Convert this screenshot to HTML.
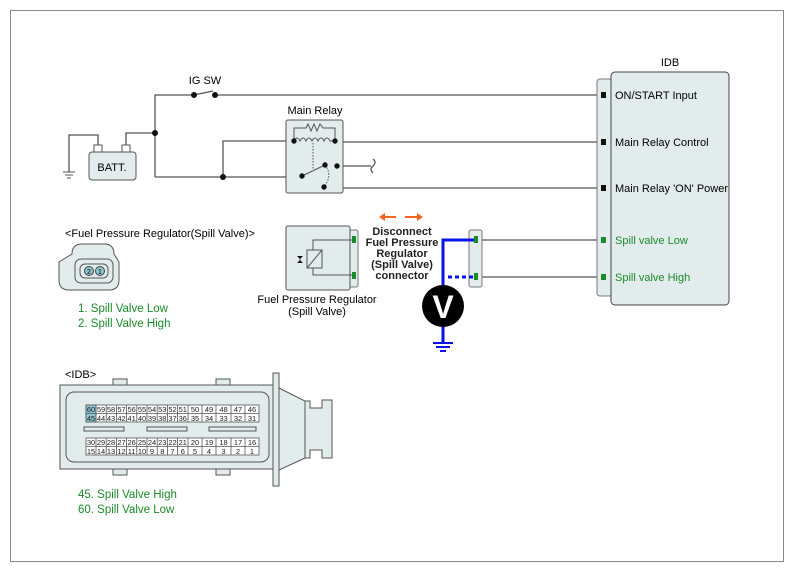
<!DOCTYPE html>
<html><head><meta charset="utf-8"><style>
html,body{margin:0;padding:0;background:#fff}
svg{display:block;font-family:"Liberation Sans",sans-serif}
</style></head><body>
<svg width="794" height="572" viewBox="0 0 794 572" xmlns="http://www.w3.org/2000/svg">
<rect x="10.5" y="10.5" width="773" height="551" fill="#fff" stroke="#888"/>
<g stroke="#555" fill="none" stroke-width="1.3">
<polyline points="155,177 155,95 194,95"/>
<line x1="194" y1="95" x2="213" y2="91"/>
<line x1="215" y1="95" x2="603" y2="95"/>
<polyline points="126,145 126,133 155,133"/>
<polyline points="98,145 98,135 69,135 69,172"/>
<line x1="155" y1="177" x2="302" y2="177"/>
<polyline points="223,177 223,141 294,141"/>
<line x1="335" y1="142" x2="603" y2="142"/>
<line x1="302" y1="177" x2="325" y2="165"/>
<polyline points="337,166 371,166"/>
<path d="M373,159 q4,3 0,7 q-4,3 0,7"/>
<polyline points="337,166 337,188 603,188"/>
<line x1="482" y1="240" x2="603" y2="240"/>
<line x1="482" y1="277" x2="603" y2="277"/>
</g>
<g stroke="#555" stroke-width="1"><line x1="63" y1="172" x2="75" y2="172"/><line x1="65" y1="175" x2="73" y2="175"/><line x1="67" y1="178" x2="71" y2="178"/></g>
<rect x="94" y="145" width="8" height="7" fill="#fff" stroke="#555"/>
<rect x="122" y="145" width="8" height="7" fill="#fff" stroke="#555"/>
<rect x="89" y="152" width="47" height="28" rx="3" fill="#e3ecec" stroke="#555"/>
<text x="112" y="171" font-size="11" text-anchor="middle">BATT.</text>
<text x="205" y="84" font-size="11" text-anchor="middle">IG SW</text>
<g fill="#111"><circle cx="194" cy="95" r="3"/><circle cx="215" cy="95" r="3"/><circle cx="155" cy="133" r="3"/><circle cx="223" cy="177" r="3"/></g>
<text x="315" y="114" font-size="11" text-anchor="middle">Main Relay</text>
<rect x="286" y="120" width="57" height="73" rx="2" fill="#e3ecec" stroke="#555"/>
<g stroke="#555" fill="none" stroke-width="1">
<polyline points="294,141 294,128 306,128 308,124 311,131 314,124 317,131 320,124 323,128 335,128 335,141"/>
<path d="M294,141 q3,-6 6,0 q3,-6 6,0 q3,-6 6,0 q3,-6 6,0 q3,-6 6,0 q3,-6 6,0 h5"/>
<line x1="313" y1="143" x2="313" y2="170" stroke-dasharray="1.5,1.5"/>
<path d="M325,165 q8,10 -1,22" stroke-dasharray="1.5,1.5"/>
<line x1="302" y1="176" x2="325" y2="165"/>
</g>
<g fill="#111"><circle cx="294" cy="141" r="2.7"/><circle cx="335" cy="141" r="2.7"/><circle cx="325" cy="165" r="2.7"/><circle cx="337" cy="166" r="2.7"/><circle cx="324" cy="187" r="2.7"/><circle cx="302" cy="176" r="2.7"/></g>
<rect x="349" y="230" width="9" height="57" rx="2" fill="#e3ecec" stroke="#777"/>
<rect x="286" y="226" width="64" height="64" rx="2" fill="#e3ecec" stroke="#555"/>
<g stroke="#555" fill="none" stroke-width="1"><polyline points="353,240 313,240 313,250"/><polyline points="353,275 313,275 313,268"/><rect x="307" y="250" width="15" height="18"/><line x1="307" y1="268" x2="322" y2="250"/><line x1="300" y1="256" x2="300" y2="263"/></g>
<path d="M297,256 h6 l-3,3 z M297,263 h6 l-3,-3 z" fill="#111"/>
<rect x="352" y="236" width="4" height="7" fill="#1a8a2a"/><rect x="352" y="272" width="4" height="7" fill="#1a8a2a"/>
<text x="317" y="303" font-size="11" text-anchor="middle">Fuel Pressure Regulator</text>
<text x="317" y="315" font-size="11" text-anchor="middle">(Spill Valve)</text>
<g fill="#f26522" stroke="#f26522" stroke-width="2"><line x1="384" y1="217" x2="396" y2="217"/><line x1="405" y1="217" x2="418" y2="217"/></g>
<path d="M379,217 l6,-4 v8 z M423,217 l-6,-4 v8 z" fill="#f26522"/>
<g font-size="11" text-anchor="middle" font-weight="bold" fill="#222"><text x="402" y="235">Disconnect</text><text x="402" y="246">Fuel Pressure</text><text x="402" y="257">Regulator</text><text x="402" y="268">(Spill Valve)</text><text x="402" y="279">connector</text></g>
<rect x="469" y="230" width="13" height="57" rx="2" fill="#e3ecec" stroke="#777"/>
<rect x="474" y="236" width="4" height="7" fill="#1a8a2a"/><rect x="474" y="273" width="4" height="7" fill="#1a8a2a"/>
<g stroke="#0a12e8" stroke-width="3" fill="none"><polyline points="474,240 443,240 443,290"/><line x1="448" y1="277" x2="474" y2="277" stroke-dasharray="4,3"/><line x1="443" y1="325" x2="443" y2="343"/></g>
<g stroke="#0a12e8" stroke-width="2"><line x1="433" y1="343" x2="453" y2="343"/><line x1="436" y1="347" x2="450" y2="347"/><line x1="440" y1="351" x2="446" y2="351"/></g>
<circle cx="443" cy="306" r="21" fill="#000"/>
<text x="443" y="318" font-size="32" font-weight="bold" fill="#fff" text-anchor="middle">V</text>
<text x="670" y="66" font-size="11" text-anchor="middle">IDB</text>
<rect x="597" y="79" width="16" height="217" rx="3" fill="#e3ecec" stroke="#777"/>
<rect x="611" y="72" width="118" height="233" rx="4" fill="#e3ecec" stroke="#444"/>
<g fill="#111"><rect x="601" y="92" width="5" height="6"/><rect x="601" y="139" width="5" height="6"/><rect x="601" y="185" width="5" height="6"/></g>
<g fill="#1a8a2a"><rect x="601" y="237" width="5" height="6"/><rect x="601" y="274" width="5" height="6"/></g>
<g font-size="11"><text x="615" y="99">ON/START Input</text><text x="615" y="146">Main Relay Control</text><text x="615" y="192">Main Relay 'ON' Power</text><text x="615" y="244" fill="#1a8a2a">Spill valve Low</text><text x="615" y="281" fill="#1a8a2a">Spill valve High</text></g>
<text x="65" y="237" font-size="11">&lt;Fuel Pressure Regulator(Spill Valve)&gt;</text>
<path d="M72,254 q0,-10 10,-10 h22 q10,0 10,10 l5,8 v18 q0,10 -10,10 h-40 q-10,0 -10,-10 v-18 z" fill="#e3ecec" stroke="#555"/>
<rect x="75" y="259" width="38" height="24" rx="6" fill="#e3ecec" stroke="#555"/>
<rect x="80" y="264" width="28" height="14" rx="5" fill="#e3ecec" stroke="#555"/>
<circle cx="89" cy="271" r="4.5" fill="#8cc4d0" stroke="#444"/><circle cx="100" cy="271" r="4.5" fill="#8cc4d0" stroke="#444"/>
<text x="89" y="274" font-size="7" text-anchor="middle">2</text><text x="100" y="274" font-size="7" text-anchor="middle">1</text>
<text x="78" y="312" font-size="11.5" fill="#1a8a2a">1. Spill Valve Low</text>
<text x="78" y="327" font-size="11.5" fill="#1a8a2a">2. Spill Valve High</text>
<text x="65" y="378" font-size="11">&lt;IDB&gt;</text>
<g fill="#e3ecec" stroke="#555">
<rect x="113" y="379" width="14" height="8"/><rect x="216" y="379" width="14" height="8"/>
<rect x="113" y="467" width="14" height="8"/><rect x="216" y="467" width="14" height="8"/>
<rect x="60" y="385" width="213" height="84"/>
<rect x="66" y="392" width="203" height="70" rx="8"/>
<polygon points="279,388 305,401 305,458 279,470"/>
<polygon points="305,401 310,401 310,408 322,408 322,400 332,400 332,458 322,458 322,450 310,450 310,458 305,458"/>
<rect x="273" y="373" width="6" height="113"/>
<rect x="84" y="427" width="40" height="4"/><rect x="147" y="427" width="40" height="4"/><rect x="209" y="427" width="47" height="4"/>
</g>
<g stroke="#555" stroke-width="0.8">
<rect x="86" y="405" width="173" height="17" fill="#fff"/>
<rect x="86" y="405" width="10" height="17" fill="#8cc4d0"/>
<line x1="86" y1="413.5" x2="259" y2="413.5"/>
<rect x="86" y="438" width="173" height="17" fill="#fff"/><line x1="86" y1="446.5" x2="259" y2="446.5"/>
</g>
<g id="cols" stroke="#555" stroke-width="0.8">
<line x1="96" y1="405" x2="96" y2="422"/><line x1="106.2" y1="405" x2="106.2" y2="422"/><line x1="116.4" y1="405" x2="116.4" y2="422"/><line x1="126.6" y1="405" x2="126.6" y2="422"/><line x1="136.8" y1="405" x2="136.8" y2="422"/><line x1="147" y1="405" x2="147" y2="422"/><line x1="157.2" y1="405" x2="157.2" y2="422"/><line x1="167.4" y1="405" x2="167.4" y2="422"/><line x1="177.6" y1="405" x2="177.6" y2="422"/><line x1="188" y1="405" x2="188" y2="422"/><line x1="202" y1="405" x2="202" y2="422"/><line x1="216" y1="405" x2="216" y2="422"/><line x1="231" y1="405" x2="231" y2="422"/><line x1="245" y1="405" x2="245" y2="422"/>
</g>
<use href="#cols" transform="translate(0,33)"/>
<g font-size="7.5" text-anchor="middle" fill="#222">
<text x="91" y="412">60</text><text x="101" y="412">59</text><text x="111" y="412">58</text><text x="121.5" y="412">57</text><text x="131.7" y="412">56</text><text x="142" y="412">55</text><text x="152" y="412">54</text><text x="162.3" y="412">53</text><text x="172.5" y="412">52</text><text x="182.8" y="412">51</text><text x="195" y="412">50</text><text x="209" y="412">49</text><text x="223.5" y="412">48</text><text x="238" y="412">47</text><text x="252" y="412">46</text>
<text x="91" y="421">45</text><text x="101" y="421">44</text><text x="111" y="421">43</text><text x="121.5" y="421">42</text><text x="131.7" y="421">41</text><text x="142" y="421">40</text><text x="152" y="421">39</text><text x="162.3" y="421">38</text><text x="172.5" y="421">37</text><text x="182.8" y="421">36</text><text x="195" y="421">35</text><text x="209" y="421">34</text><text x="223.5" y="421">33</text><text x="238" y="421">32</text><text x="252" y="421">31</text>
<text x="91" y="445">30</text><text x="101" y="445">29</text><text x="111" y="445">28</text><text x="121.5" y="445">27</text><text x="131.7" y="445">26</text><text x="142" y="445">25</text><text x="152" y="445">24</text><text x="162.3" y="445">23</text><text x="172.5" y="445">22</text><text x="182.8" y="445">21</text><text x="195" y="445">20</text><text x="209" y="445">19</text><text x="223.5" y="445">18</text><text x="238" y="445">17</text><text x="252" y="445">16</text>
<text x="91" y="454">15</text><text x="101" y="454">14</text><text x="111" y="454">13</text><text x="121.5" y="454">12</text><text x="131.7" y="454">11</text><text x="142" y="454">10</text><text x="152" y="454">9</text><text x="162.3" y="454">8</text><text x="172.5" y="454">7</text><text x="182.8" y="454">6</text><text x="195" y="454">5</text><text x="209" y="454">4</text><text x="223.5" y="454">3</text><text x="238" y="454">2</text><text x="252" y="454">1</text>
</g>
<text x="78" y="498" font-size="11.5" fill="#1a8a2a">45. Spill Valve High</text>
<text x="78" y="513" font-size="11.5" fill="#1a8a2a">60. Spill Valve Low</text>
</svg>
</body></html>
